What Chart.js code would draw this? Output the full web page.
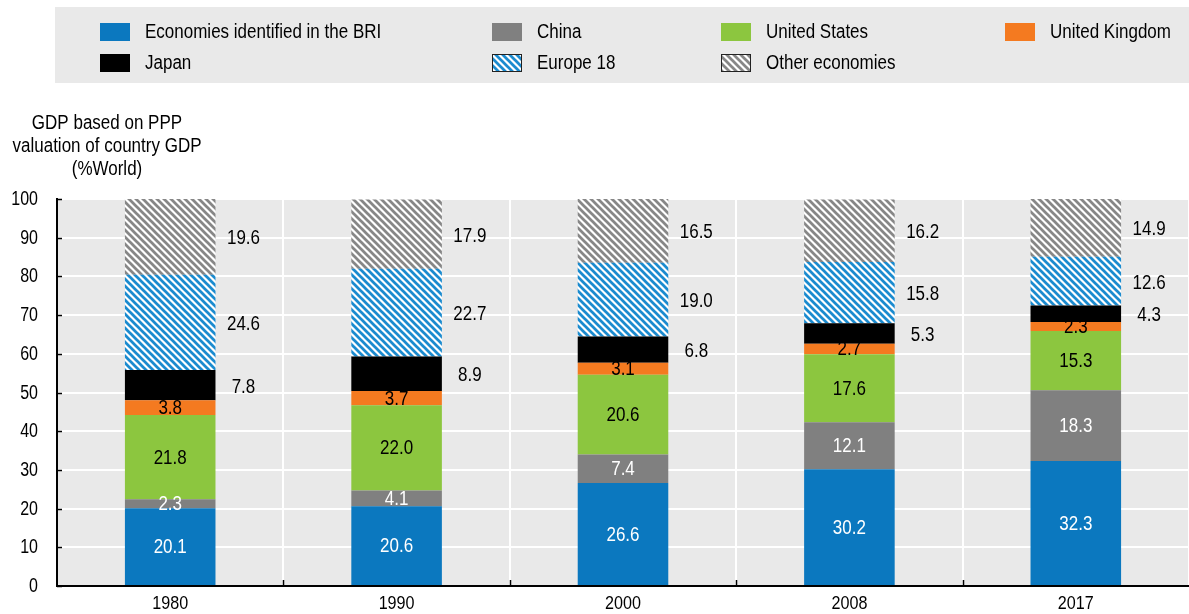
<!DOCTYPE html>
<html>
<head>
<meta charset="utf-8">
<script src="https://cdn.jsdelivr.net/npm/chart.js@4/dist/chart.umd.min.js"></script>
<style>
  html, body { margin: 0; padding: 0; background: #fff; }
  #wrap { width: 1189px; height: 614px; }
</style>
</head>
<body>
<div id="wrap"><canvas id="gdp-share" width="1189" height="614"></canvas></div>
<script>
const FONT = '"Liberation Sans", Arial, sans-serif';

// data
const years = ['1980', '1990', '2000', '2008', '2017'];
const briValues = [20.1, 20.6, 26.6, 30.2, 32.3];
const chinaValues = [2.3, 4.1, 7.4, 12.1, 18.3];
const usValues = [21.8, 22.0, 20.6, 17.6, 15.3];
const ukValues = [3.8, 3.7, 3.1, 2.7, 2.3];
const japanValues = [7.8, 8.9, 6.8, 5.3, 4.3];
const europeValues = [24.6, 22.7, 19.0, 15.8, 12.6];
const otherValues = [19.6, 17.9, 16.5, 16.2, 14.9];
const yTicks = [0, 10, 20, 30, 40, 50, 60, 70, 80, 90, 100];
const yTitle = ['GDP based on PPP', 'valuation of country GDP', '(%World)'];

// diagonal stripes, top-left to bottom-right
function makeStripes(color) {
    const size = 7;
    const tile = document.createElement('canvas');
    tile.width = size;
    tile.height = size;
    const c = tile.getContext('2d');
    c.fillStyle = '#ffffff';
    c.fillRect(0, 0, size, size);
    c.strokeStyle = color;
    c.lineWidth = 2.7;
    for (let k = -1; k <= 1; k++) {
        c.beginPath();
        c.moveTo(k * size - 1, -1);
        c.lineTo(k * size + size + 1, size + 1);
        c.stroke();
    }
    return c.createPattern(tile, 'repeat');
}

// no narrow face installed, so squeeze the regular one
function narrowText(c, text, x, y, align, size, squeeze = 0.85) {
    c.save();
    c.font = size + 'px ' + FONT;
    c.textBaseline = 'middle';
    c.textAlign = align;
    c.translate(x, y);
    c.scale(squeeze, 1);
    c.fillText(text, 0, 0);
    c.restore();
}

const canvas = document.querySelector('#gdp-share');

const datasets = [
    { label: 'Economies identified in the BRI', data: briValues, backgroundColor: '#0b78bf', labelPos: 'in', labelColor: '#ffffff' },
    { label: 'China', data: chinaValues, backgroundColor: '#808080', labelPos: 'in', labelColor: '#ffffff' },
    { label: 'United States', data: usValues, backgroundColor: '#8cc63f', labelPos: 'in', labelColor: '#000000' },
    { label: 'United Kingdom', data: ukValues, backgroundColor: '#f47a20', labelPos: 'in', labelColor: '#000000' },
    { label: 'Japan', data: japanValues, backgroundColor: '#000000', labelPos: 'out', labelColor: '#000000' },
    { label: 'Europe 18', data: europeValues, backgroundColor: makeStripes('#1b8bcf'), labelPos: 'out', labelColor: '#000000', pattern: true },
    { label: 'Other economies', data: otherValues, backgroundColor: makeStripes('#878787'), labelPos: 'out', labelColor: '#000000', pattern: true }
];

// legend grid: two rows, four columns
const legendCols = [100, 492, 721, 1005];
const legendRows = [32, 63];

const extrasPlugin = {
    id: 'extras',
    beforeDraw(chart) {
        const c = chart.ctx;
        const a = chart.chartArea;
        c.save();
        // legend panel
        c.fillStyle = '#e9e9e9';
        c.fillRect(55, 7, chart.width - 55, 76);
        chart.data.datasets.forEach((ds, i) => {
            const x = legendCols[i % 4];
            const y = legendRows[Math.floor(i / 4)];
            c.fillStyle = ds.backgroundColor;
            c.fillRect(x, y - 9, 30, 18);
            if (ds.pattern) {
                c.strokeStyle = '#222';
                c.lineWidth = 1;
                c.strokeRect(x + 0.5, y - 8.5, 29, 17);
            }
            c.fillStyle = '#000';
            narrowText(c, ds.label, x + 45, y, 'left', 20);
        });
        // y axis title
        c.fillStyle = '#000';
        yTitle.forEach((line, i) => narrowText(c, line, 107, 123 + i * 23, 'center', 20));
        // plot background
        c.fillStyle = '#e9e9e9';
        c.fillRect(a.left, a.top, a.right - a.left, a.bottom - a.top);
        c.restore();
    },
    afterDraw(chart) {
        const c = chart.ctx;
        const area = chart.chartArea;
        const xScale = chart.scales.x;
        const yScale = chart.scales.y;
        c.save();
        // axis ticks pointing inward + tick labels
        c.strokeStyle = '#000';
        c.fillStyle = '#000';
        c.lineWidth = 1.5;
        yTicks.forEach(v => {
            const y = Math.round(yScale.getPixelForValue(v)) + 0.5;
            c.beginPath();
            c.moveTo(area.left, y);
            c.lineTo(area.left + 5, y);
            c.stroke();
            narrowText(c, String(v), 38, y, 'right', 20, 0.8);
        });
        years.forEach((yr, i) => {
            narrowText(c, yr, xScale.getPixelForValue(i), 604, 'center', 19);
            if (i > 0) {
                const x = Math.round((xScale.getPixelForValue(i - 1) + xScale.getPixelForValue(i)) / 2) + 0.5;
                c.beginPath();
                c.moveTo(x, area.bottom);
                c.lineTo(x, area.bottom - 6);
                c.stroke();
            }
        });
        // value labels
        chart.data.datasets.forEach((ds, dsIndex) => {
            const meta = chart.getDatasetMeta(dsIndex);
            meta.data.forEach((bar, i) => {
                const props = bar.getProps(['x', 'y', 'base', 'width'], true);
                const yMid = (props.y + props.base) / 2;
                const text = ds.data[i].toFixed(1);
                c.fillStyle = ds.labelColor;
                if (ds.labelPos === 'in') {
                    narrowText(c, text, props.x, yMid + 1, 'center', 20);
                } else {
                    narrowText(c, text, props.x + props.width / 2 + 28, yMid + 2, 'center', 20);
                }
            });
        });
        c.restore();
    }
};

new Chart(canvas, {
    type: 'bar',
    data: {
        labels: years,
        datasets: datasets.map(d => ({
            label: d.label,
            data: d.data,
            backgroundColor: d.backgroundColor,
            borderWidth: 0,
            labelPos: d.labelPos,
            labelColor: d.labelColor,
            pattern: d.pattern
        }))
    },
    options: {
        responsive: false,
        animation: false,
        devicePixelRatio: 1,
        layout: {
            padding: { top: 199, left: 0, right: 0, bottom: 0 }
        },
        datasets: {
            bar: {
                categoryPercentage: 1,
                barPercentage: 0.4
            }
        },
        scales: {
            x: {
                stacked: true,
                offset: true,
                grid: {
                    offset: true,
                    color: '#ffffff',
                    lineWidth: 2,
                    drawTicks: false
                },
                border: { color: '#000000', width: 2 },
                ticks: { display: false },
                afterFit(scale) { scale.height = 28; }
            },
            y: {
                stacked: true,
                min: 0,
                max: 100,
                grid: {
                    color: '#ffffff',
                    lineWidth: 2,
                    drawTicks: false
                },
                border: { color: '#000000', width: 2 },
                ticks: { display: false, stepSize: 10 },
                afterFit(scale) { scale.width = 57; }
            }
        },
        plugins: {
            legend: { display: false },
            tooltip: { enabled: false }
        }
    },
    plugins: [extrasPlugin]
});
</script>
</body>
</html>
